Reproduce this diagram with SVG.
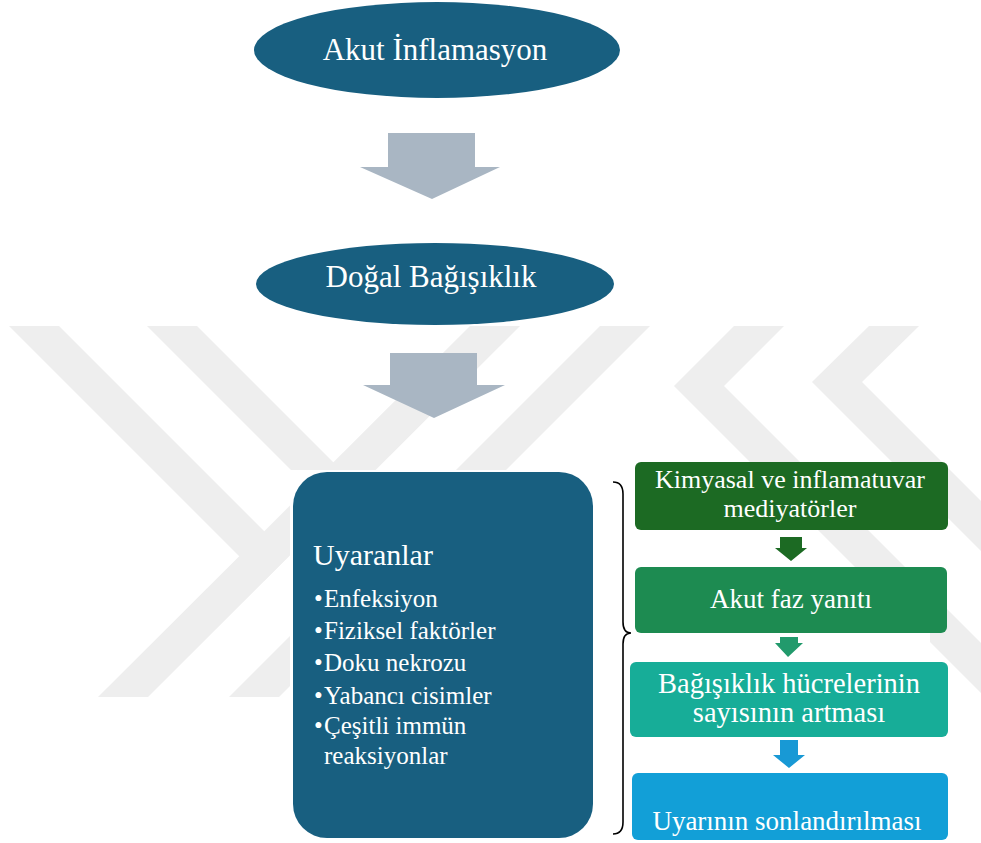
<svg xmlns="http://www.w3.org/2000/svg" width="981" height="843" viewBox="0 0 981 843">
<style>
.wm{fill:#eeeeee}
.bg{fill:#ffffff}
.dark{fill:#185f80}
.t{font-family:"Liberation Serif","Times New Roman",serif;fill:#ffffff}
.big{font-size:31px}
.brace{fill:none;stroke:#000000;stroke-width:1.6}
</style>
<rect x="0" y="0" width="981" height="843" fill="#ffffff"/>
<g id="watermark">
<polygon class="wm" points="9,326 59,326 289,556 264,581"/>
<polygon class="wm" points="470,326 520,326 148,697 98,697"/>
<polygon class="wm" points="147,326 197,326 423,552 398,577"/>
<polygon class="wm" points="600,326 650,326 279,697 229,697"/>
<polygon class="wm" points="734,326 784,326 724,386 674,386"/>
<polygon class="wm" points="674,386 724,386 1035,697 985,697"/>
<polygon class="wm" points="869,326 919,326 862,382 812,382"/>
<polygon class="wm" points="812,382 862,382 1177,697 1127,697"/>
</g>
<g id="backgrounds">
<rect class="bg" x="290" y="470" width="310" height="373"/>
<rect class="bg" x="773" y="531" width="34" height="33"/>
<rect class="bg" x="653" y="632" width="277" height="31"/>
<rect class="bg" x="771" y="737" width="36" height="35"/>
</g>
<g id="connectors">
<polygon fill="#a9b6c3" points="388,133 475,133 475,167 500,167 432,199 360,167 388,167"/>
<polygon fill="#a9b6c3" points="390,353 477,353 477,385 505,385 434,418 363,385 390,385"/>
<polygon fill="#1c6a23" points="780,537 802,537 802,548 807,548 791,561 775,548 780,548"/>
<polygon fill="#229a6c" points="780,637 798,637 798,643 803,643 788,657 775,643 780,643"/>
<polygon fill="#1899d5" points="780,740 798,740 798,755 805,755 789,768 773,755 780,755"/>
<path class="brace" d="M613,482 Q623,482 623,494 L623,622 Q623,633 631,633 Q623,633 623,644 L623,822 Q623,834 613,834"/>
</g>
<g id="node-akut-inflamasyon">
<ellipse class="dark" cx="437" cy="50" rx="183" ry="48"/>
<text class="t big" x="435" y="60" text-anchor="middle">Akut İnflamasyon</text>
</g>
<g id="node-dogal-bagisiklik">
<ellipse class="dark" cx="435" cy="284" rx="179" ry="41"/>
<text class="t big" x="431" y="287" text-anchor="middle">Doğal Bağışıklık</text>
</g>
<g id="node-uyaranlar">
<rect class="dark" x="293" y="472" width="300" height="366" rx="34" ry="34"/>
<text class="t" x="313" y="565" font-size="30">Uyaranlar</text>
<g class="t" font-size="25">
<text x="314" y="607">•</text><text x="324" y="607">Enfeksiyon</text>
<text x="314" y="639">•</text><text x="324" y="639">Fiziksel faktörler</text>
<text x="314" y="671">•</text><text x="324" y="671">Doku nekrozu</text>
<text x="314" y="704">•</text><text x="324" y="704">Yabancı cisimler</text>
<text x="314" y="734">•</text><text x="324" y="734">Çeşitli immün</text>
<text x="324" y="764">reaksiyonlar</text>
</g>
</g>
<g id="node-kimyasal">
<rect x="635" y="462" width="313" height="68" rx="6" fill="#1c6a23"/>
<text class="t" font-size="26" text-anchor="middle"><tspan x="790" y="488">Kimyasal ve inflamatuvar</tspan><tspan x="790" y="517">mediyatörler</tspan></text>
</g>
<g id="node-akut-faz">
<rect x="635" y="567" width="312" height="66" rx="6" fill="#1d8b51"/>
<text class="t" x="791" y="608" font-size="27" text-anchor="middle">Akut faz yanıtı</text>
</g>
<g id="node-bagisiklik-hucreleri">
<rect x="630" y="662" width="318" height="75" rx="6" fill="#17ad98"/>
<text class="t" font-size="28.5" text-anchor="middle"><tspan x="789" y="693">Bağışıklık hücrelerinin</tspan><tspan x="789" y="722">sayısının artması</tspan></text>
</g>
<g id="node-uyarinin-sonlandirilmasi">
<rect x="632" y="773" width="316" height="67" rx="6" fill="#129fd7"/>
<text class="t" x="787" y="830" font-size="27" text-anchor="middle">Uyarının sonlandırılması</text>
</g>
</svg>
